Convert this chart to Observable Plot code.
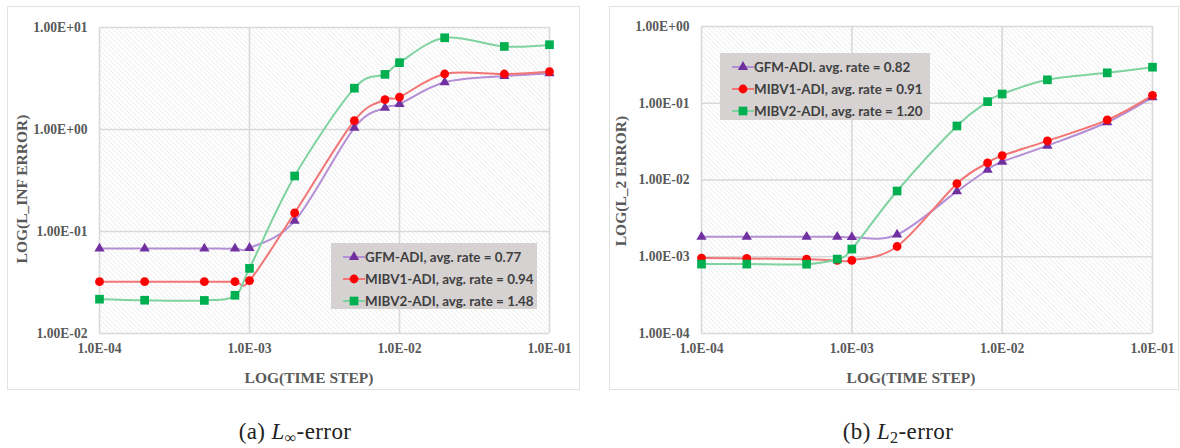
<!DOCTYPE html>
<html>
<head>
<meta charset="utf-8">
<script src="https://cdn.jsdelivr.net/npm/d3@7"></script>
<script src="https://cdn.jsdelivr.net/npm/@observablehq/plot@0.6"></script>
<style>
  body { margin: 0; background: #fff; }
  #page { position: relative; width: 1180px; height: 448px; overflow: hidden; background: #fff; }
  .panel { position: absolute; top: 6px; height: 384px; border: 1px solid #e2e2e2; box-sizing: border-box; background: #fff; }
  .panel svg { display: block; }
  .title { position: absolute; font-family: "Liberation Serif", serif; font-weight: bold; font-size: 15.5px; color: #595959; white-space: nowrap; transform: translate(-50%, -50%); }
  .title.v { transform: translate(-50%, -50%) rotate(-90deg); }
  .legend { position: absolute; background: #d6d2d2; font-family: Lato, "Open Sans", sans-serif; font-weight: bold; font-size: 13.4px; color: #3f3f3f; box-sizing: border-box; padding: 3px 0 0 12px; }
  .legend .row { display: flex; align-items: center; height: 22px; white-space: nowrap; }
  .legend svg { display: block; }
  .caption { position: absolute; top: 433px; font-family: "Liberation Serif", serif; font-size: 23px; letter-spacing: 0.4px; color: #222; transform: translate(-50%, -50%); white-space: nowrap; }
  .caption sub { font-size: 0.7em; vertical-align: -0.25em; }
</style>
</head>
<body>
<div id="page"></div>
<script>
// Time steps shared by both panels
const steps = [1e-4, 2e-4, 5e-4, 8e-4, 1e-3, 2e-3, 5e-3, 8e-3, 1e-2, 2e-2, 5e-2, 1e-1];

// L_inf error per method
const linfGFM   = [0.068, 0.068, 0.068, 0.068, 0.069, 0.127, 1.04, 1.63, 1.78, 2.90, 3.34, 3.55];
const linfMIBV1 = [0.0322, 0.0322, 0.0322, 0.0322, 0.033, 0.152, 1.22, 1.96, 2.08, 3.50, 3.50, 3.69];
const linfMIBV2 = [0.0217, 0.0212, 0.0211, 0.0237, 0.0435, 0.350, 2.54, 3.47, 4.52, 7.93, 6.52, 6.78];

// L_2 error per method
const l2GFM   = [0.00182, 0.00182, 0.00182, 0.00182, 0.00180, 0.00194, 0.00711, 0.0136, 0.0173, 0.0280, 0.0565, 0.120];
const l2MIBV1 = [0.00096, 0.00095, 0.00093, 0.000896, 0.000896, 0.00136, 0.00896, 0.0167, 0.0208, 0.0323, 0.0607, 0.127];
const l2MIBV2 = [0.000802, 0.000802, 0.0008, 0.000933, 0.00126, 0.00719, 0.0506, 0.105, 0.132, 0.202, 0.249, 0.295];

// Legend texts
const linfLabels = ["GFM-ADI, avg. rate = 0.77", "MIBV1-ADI, avg. rate = 0.94", "MIBV2-ADI, avg. rate = 1.48"];
const l2Labels   = ["GFM-ADI. avg. rate = 0.82", "MIBV1-ADI, avg. rate = 0.91", "MIBV2-ADI, avg. rate = 1.20"];

// Axis ticks
const xTicks = [1e-4, 1e-3, 1e-2, 1e-1];
const linfTicks = [1e-2, 1e-1, 1, 10];
const l2Ticks = [1e-4, 1e-3, 1e-2, 1e-1, 1];

// Series styling
const symbols = ["triangle", "circle", "square"];
const markColors = ["#7030a0", "#ff0000", "#00b050"];
const lineColors = ["#b48fd6", "#f27474", "#7fd3a0"];
const radii = [3.8, 4.4, 4.9];

function sci(d, digits) {
  const e = Math.round(Math.log10(d));
  const m = d / Math.pow(10, e);
  return m.toFixed(digits) + "E" + (e < 0 ? "-" : "+") + String(Math.abs(e)).padStart(2, "0");
}

function makePanel({id, left, width, marginRight, marginTop, yDomain, yTicks, series, labels,
                    yTitle, yTitlePos, xTitlePos, legendBox, caption, captionX}) {
  const page = document.getElementById("page");
  const box = document.createElement("div");
  box.className = "panel";
  box.style.left = left + "px";
  box.style.width = width + "px";
  page.appendChild(box);

  const marks = [
    Plot.frame({fill: `url(#hatch-${id})`}),
    Plot.gridX(xTicks, {stroke: "#d9d9d9", strokeOpacity: 1, strokeWidth: 1.6}),
    Plot.gridY(yTicks, {stroke: "#d9d9d9", strokeOpacity: 1, strokeWidth: 1.6}),
    Plot.axisX(xTicks, {tickSize: 0, tickPadding: 10, tickFormat: d => sci(d, 1), label: null}),
    Plot.axisY(yTicks, {tickSize: 0, tickPadding: 12, tickFormat: d => sci(d, 2), label: null})
  ];
  series.forEach((vals, i) => {
    const rows = steps.map((s, j) => ({step: s, value: vals[j]}));
    marks.push(Plot.line(rows, {x: "step", y: "value", stroke: lineColors[i], strokeWidth: 2,
                                curve: "cardinal", tension: 0}));
  });
  series.forEach((vals, i) => {
    const rows = steps.map((s, j) => ({step: s, value: vals[j]}));
    marks.push(Plot.dot(rows, {x: "step", y: "value", symbol: symbols[i], fill: markColors[i],
                               stroke: "none", r: radii[i]}));
  });

  const svg = Plot.plot({
    width: width - 2,
    height: 382,
    marginLeft: 91,
    marginRight,
    marginTop,
    marginBottom: 56,
    x: {type: "log", domain: [1e-4, 1e-1]},
    y: {type: "log", domain: yDomain},
    style: {fontFamily: "'Liberation Serif', serif", fontSize: "13.6px", fontWeight: "bold",
            color: "#595959", background: "#fff", overflow: "visible"},
    marks
  });

  // diagonal hatch used to fill the plotting area
  const defs = d3.select(svg).insert("defs", ":first-child");
  const pat = defs.append("pattern")
    .attr("id", `hatch-${id}`)
    .attr("patternUnits", "userSpaceOnUse")
    .attr("width", 3.4).attr("height", 3.4)
    .attr("patternTransform", "rotate(-45)");
  pat.append("rect").attr("width", 3.4).attr("height", 3.4).attr("fill", "#ffffff");
  pat.append("line").attr("x1", 0).attr("y1", 0).attr("x2", 0).attr("y2", 3.4)
    .attr("stroke", "#e4e4e4").attr("stroke-width", 1.1);

  box.appendChild(svg);

  const yt = document.createElement("div");
  yt.className = "title v";
  yt.textContent = yTitle;
  yt.style.left = yTitlePos[0] + "px";
  yt.style.top = yTitlePos[1] + "px";
  page.appendChild(yt);

  const xt = document.createElement("div");
  xt.className = "title";
  xt.textContent = "LOG(TIME STEP)";
  xt.style.left = xTitlePos[0] + "px";
  xt.style.top = xTitlePos[1] + "px";
  page.appendChild(xt);

  // legend
  const lg = document.createElement("div");
  lg.className = "legend";
  lg.style.left = legendBox[0] + "px";
  lg.style.top = legendBox[1] + "px";
  lg.style.width = legendBox[2] + "px";
  lg.style.height = legendBox[3] + "px";
  labels.forEach((txt, i) => {
    const row = document.createElement("div");
    row.className = "row";
    const key = d3.create("svg").attr("width", 22).attr("height", 12);
    key.append("line").attr("x1", 0).attr("x2", 22).attr("y1", 6).attr("y2", 6)
      .attr("stroke", lineColors[i]).attr("stroke-width", 2);
    const sym = {triangle: d3.symbolTriangle, circle: d3.symbolCircle, square: d3.symbolSquare}[symbols[i]];
    key.append("path").attr("transform", "translate(11,6)")
      .attr("d", d3.symbol(sym, Math.PI * radii[i] * radii[i])())
      .attr("fill", markColors[i]);
    row.appendChild(key.node());
    const span = document.createElement("span");
    span.textContent = txt;
    row.appendChild(span);
    lg.appendChild(row);
  });
  page.appendChild(lg);

  const cap = document.createElement("div");
  cap.className = "caption";
  cap.innerHTML = caption;
  cap.style.left = captionX + "px";
  page.appendChild(cap);
}

makePanel({
  id: "a", left: 7, width: 573, marginRight: 30, marginTop: 20,
  yDomain: [1e-2, 10], yTicks: linfTicks,
  series: [linfGFM, linfMIBV1, linfMIBV2], labels: linfLabels,
  yTitle: "LOG(L_INF ERROR)", yTitlePos: [22, 189], xTitlePos: [309, 378],
  legendBox: [331, 243, 206, 66],
  caption: "(a) <i>L</i><sub>∞</sub>-error", captionX: 295
});

makePanel({
  id: "b", left: 609, width: 570, marginRight: 26, marginTop: 19,
  yDomain: [1e-4, 1], yTicks: l2Ticks,
  series: [l2GFM, l2MIBV1, l2MIBV2], labels: l2Labels,
  yTitle: "LOG(L_2 ERROR)", yTitlePos: [621, 181], xTitlePos: [911, 378],
  legendBox: [720, 53, 210, 67],
  caption: "(b) <i>L</i><sub>2</sub>-error", captionX: 898
});
</script>
</body>
</html>
